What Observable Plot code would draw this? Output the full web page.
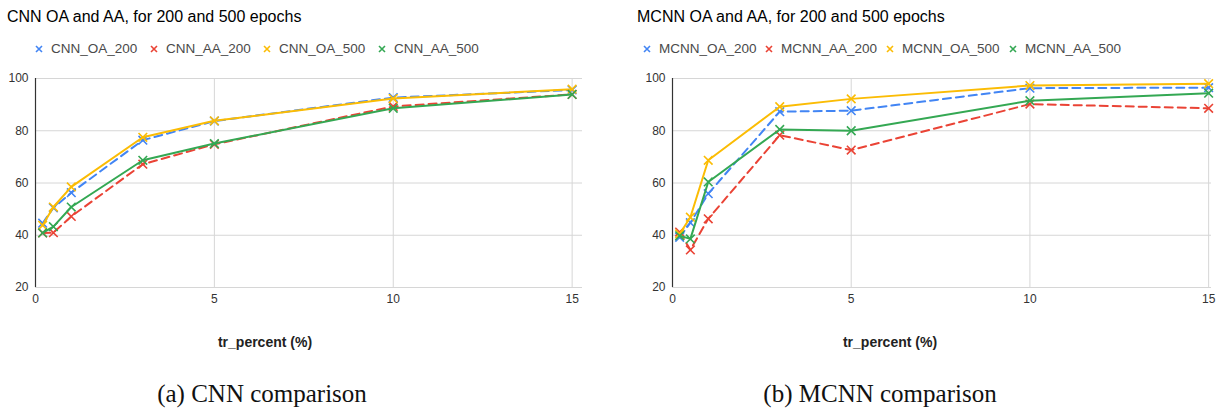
<!DOCTYPE html>
<html>
<head>
<meta charset="utf-8">
<script src="https://cdn.jsdelivr.net/npm/d3@7"></script>
<script src="https://cdn.jsdelivr.net/npm/@observablehq/plot@0.6"></script>
<style>
  body { margin: 0; background: #fff; }
  #root { position: relative; width: 1217px; height: 420px; overflow: hidden; font-family: "Liberation Sans", Arial, sans-serif; }
  .abs { position: absolute; white-space: nowrap; }
  .title { font-size: 16px; color: #000; }
  .legend { font-size: 13.5px; color: #4a4a4a; display: flex; align-items: center; }
  .xlabel { font-size: 14px; font-weight: bold; color: #222; transform: translateX(-50%); }
  .caption { font-family: "Liberation Serif", "DejaVu Serif", serif; font-size: 25px; color: #111; transform: translateX(-50%); }
</style>
</head>
<body>
<div id="root"></div>
<script>
// ---- data ----
const trPercent = [0.2, 0.5, 1, 3, 5, 10, 15];
const yTicks = [20, 40, 60, 80, 100];
const xTicks = [0, 5, 10, 15];

const cnnNames = ["CNN_OA_200", "CNN_AA_200", "CNN_OA_500", "CNN_AA_500"];
const cnnOA200 = [44.6, 50.5, 56.3, 76.4, 83.7, 92.7, 95.6];
const cnnAA200 = [40.9, 41.0, 47.2, 67.2, 74.8, 89.3, 93.9];
const cnnOA500 = [43.8, 50.8, 58.5, 77.5, 83.8, 92.3, 95.9];
const cnnAA500 = [40.9, 43.3, 50.8, 68.7, 75.1, 88.6, 93.9];

const mcnnNames = ["MCNN_OA_200", "MCNN_AA_200", "MCNN_OA_500", "MCNN_AA_500"];
const mcnnOA200 = [39.2, 44.8, 55.9, 87.3, 87.7, 96.3, 96.5];
const mcnnAA200 = [41.2, 34.4, 46.3, 78.3, 72.6, 90.2, 88.6];
const mcnnOA500 = [40.5, 46.9, 68.7, 89.2, 92.2, 97.3, 98.0];
const mcnnAA500 = [39.8, 38.6, 60.4, 80.5, 80.0, 91.5, 94.4];

const seriesColors = ["#4285F4", "#EA4335", "#FBBC04", "#34A853"];
const seriesDashed = [true, true, false, false];

const titles = ["CNN OA and AA, for 200 and 500 epochs", "MCNN OA and AA, for 200 and 500 epochs"];
const xLabel = "tr_percent (%)";
const captions = ["(a) CNN comparison", "(b) MCNN comparison"];

// ---- helpers ----
const root = document.getElementById("root");
function addDiv(cls, text, left, top) {
  const d = document.createElement("div");
  d.className = "abs " + cls;
  d.textContent = text;
  d.style.left = left + "px";
  d.style.top = top + "px";
  root.appendChild(d);
  return d;
}
function markerSvg(color) {
  const ns = "http://www.w3.org/2000/svg";
  const s = document.createElementNS(ns, "svg");
  s.setAttribute("width", 8); s.setAttribute("height", 8);
  s.style.marginRight = "8px";
  const p = document.createElementNS(ns, "path");
  p.setAttribute("d", "M1,1L7,7M7,1L1,7");
  p.setAttribute("stroke", color);
  p.setAttribute("stroke-width", "1.6");
  s.appendChild(p);
  return s;
}

function panel(cfg) {
  const {names, values, left, width, marginLeft, marginRight, xMax,
         titleX, legendX, xLabelX, captionX} = cfg;
  addDiv("title", cfg.title, titleX, 8);
  names.forEach((n, i) => {
    const d = addDiv("legend", "", legendX[i], 41);
    d.appendChild(markerSvg(seriesColors[i]));
    d.appendChild(document.createTextNode(n));
  });
  const marks = [
    Plot.gridY(yTicks, {stroke: "#d6d6d6", strokeOpacity: 1}),
    Plot.gridX(xTicks.filter(t => t > 0), {stroke: "#d6d6d6", strokeOpacity: 1}),
    Plot.ruleX([0], {stroke: "#333", strokeWidth: 1.2}),
    Plot.axisY(yTicks, {tickSize: 0, tickPadding: 7, label: null, fill: "#333"}),
    Plot.axisX(xTicks, {tickSize: 0, tickPadding: 7, label: null, fill: "#333"})
  ];
  names.forEach((n, i) => {
    const rows = trPercent.map((x, j) => ({x, y: values[i][j]}));
    marks.push(Plot.line(rows, {x: "x", y: "y", stroke: seriesColors[i], strokeWidth: 2,
      strokeDasharray: seriesDashed[i] ? "8,5" : null}));
    marks.push(Plot.dot(rows, {x: "x", y: "y", symbol: "times", r: 4, stroke: seriesColors[i], strokeWidth: 1.6}));
  });
  const svg = Plot.plot({
    width, height: 300,
    marginTop: 18, marginBottom: 73, marginLeft, marginRight,
    x: {domain: [0, xMax]},
    y: {domain: [20, 100]},
    style: {fontFamily: "Liberation Sans, Arial, sans-serif", fontSize: "12px", background: "transparent", overflow: "visible"},
    marks
  });
  svg.style.position = "absolute";
  svg.style.left = left + "px";
  svg.style.top = "60px";
  root.appendChild(svg);
  addDiv("xlabel", xLabel, xLabelX, 334);
  addDiv("caption", captions[cfg.idx], captionX, 380);
}

panel({idx: 0, title: titles[0], names: cnnNames, values: [cnnOA200, cnnAA200, cnnOA500, cnnAA500],
  left: 0, width: 600, marginLeft: 35, marginRight: 18, xMax: 15.29,
  titleX: 7, legendX: [35, 150, 263, 378], xLabelX: 265, captionX: 262});
panel({idx: 1, title: titles[1], names: mcnnNames, values: [mcnnOA200, mcnnAA200, mcnnOA500, mcnnAA500],
  left: 600, width: 617, marginLeft: 72, marginRight: 6, xMax: 15.08,
  titleX: 637, legendX: [643, 765, 886, 1009], xLabelX: 890, captionX: 880});
</script>
</body>
</html>
